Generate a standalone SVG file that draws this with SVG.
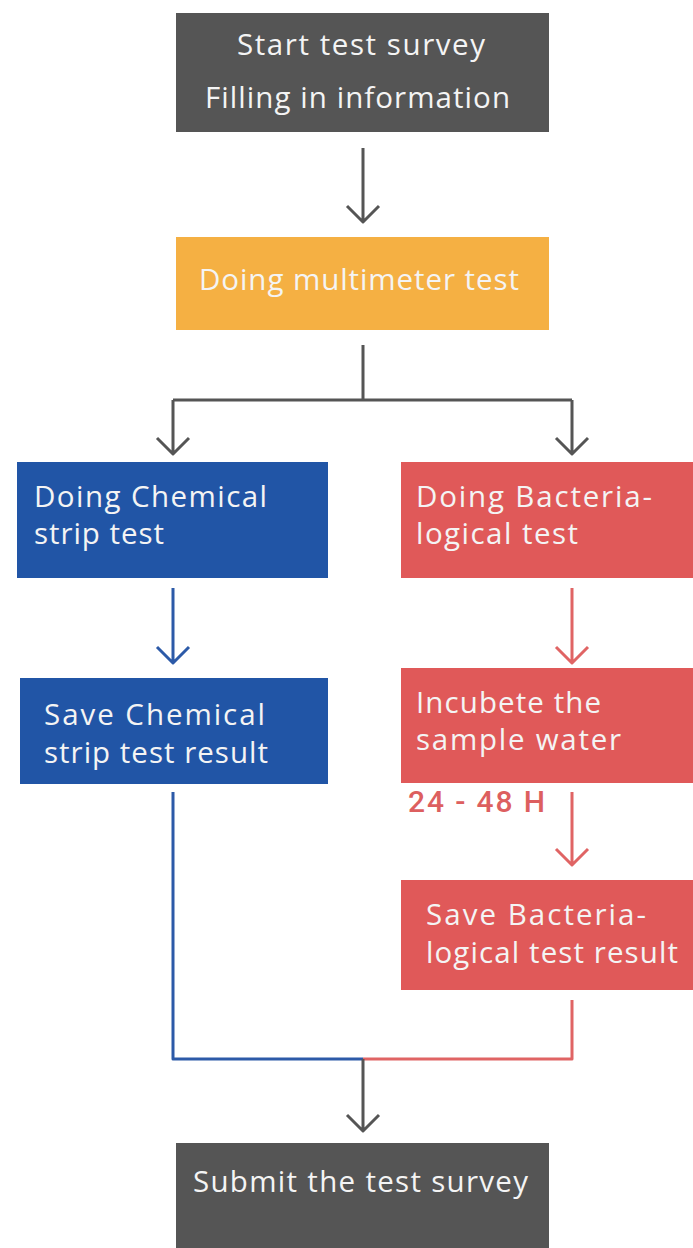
<svg xmlns="http://www.w3.org/2000/svg" width="693" height="1248" viewBox="0 0 693 1248">
  <style>
    .lbl { font-family: "Open Sans", Lato, "Liberation Sans", sans-serif; font-size: 29.5px; fill: #f4f4f4; }
    .gray { fill: #555555; }
    .orange { fill: #f5b043; }
    .blue { fill: #2155a6; }
    .red { fill: #e05959; }
    .cg { stroke: #555555; }
    .cb { stroke: #2c5aa8; }
    .cr { stroke: #e06464; }
    .conn path { fill: none; stroke-width: 3; stroke-linejoin: round; stroke-linecap: butt; }
    .note { font-family: Roboto, "Liberation Sans", sans-serif; font-size: 30px; font-weight: 500; fill: #dd5f5f; }
  </style>

  <rect width="693" height="1248" fill="#ffffff"/>

  <!-- connectors -->
  <g id="connectors" class="conn">
    <path class="cg" d="M363 148 V222 M347 206 L363 222 L379 206"/>
    <path class="cg" d="M363 345 V400 M173 400 H572 M173 400 V454 M157 438 L173 454 L189 438 M572 400 V454 M556 438 L572 454 L588 438"/>
    <path class="cb" d="M173 588 V663 M157 647 L173 663 L189 647"/>
    <path class="cr" d="M572 588 V663 M556 647 L572 663 L588 647"/>
    <path class="cr" d="M572 792 V865 M556 849 L572 865 L588 849"/>
    <path class="cb" d="M173 792 V1059 H363"/>
    <path class="cr" d="M572 1000 V1059 H363"/>
    <path class="cg" d="M363 1059 V1131 M347 1115 L363 1131 L379 1115"/>
  </g>

  <g id="start">
    <rect class="gray" x="176" y="13" width="373" height="119"/>
    <text class="lbl" x="237" y="55" textLength="248" lengthAdjust="spacing">Start test survey</text>
    <text class="lbl" x="205" y="108" textLength="305" lengthAdjust="spacing">Filling in information</text>
  </g>

  <g id="multimeter">
    <rect class="orange" x="176" y="237" width="373" height="93"/>
    <text class="lbl" x="199" y="290" textLength="320" lengthAdjust="spacing">Doing multimeter test</text>
  </g>

  <g id="chem-test">
    <rect class="blue" x="17" y="462" width="311" height="116"/>
    <text class="lbl" x="34" y="507" textLength="233" lengthAdjust="spacing">Doing Chemical</text>
    <text class="lbl" x="34" y="544" textLength="130" lengthAdjust="spacing">strip test</text>
  </g>

  <g id="bact-test">
    <rect class="red" x="401" y="462" width="292" height="116"/>
    <text class="lbl" x="416" y="507" textLength="236" lengthAdjust="spacing">Doing Bacteria-</text>
    <text class="lbl" x="416" y="544" textLength="162" lengthAdjust="spacing">logical test</text>
  </g>

  <g id="chem-save">
    <rect class="blue" x="20" y="678" width="308" height="106"/>
    <text class="lbl" x="44" y="725" textLength="221" lengthAdjust="spacing">Save Chemical</text>
    <text class="lbl" x="44" y="763" textLength="224" lengthAdjust="spacing">strip test result</text>
  </g>

  <g id="incubate">
    <rect class="red" x="401" y="668" width="292" height="115"/>
    <text class="lbl" x="416" y="713" textLength="185" lengthAdjust="spacing">Incubete the</text>
    <text class="lbl" x="416" y="750" textLength="205" lengthAdjust="spacing">sample water</text>
    <text class="note" x="408" y="812" textLength="137" lengthAdjust="spacing">24 - 48 H</text>
  </g>

  <g id="bact-save">
    <rect class="red" x="401" y="880" width="292" height="110"/>
    <text class="lbl" x="426" y="925" textLength="220" lengthAdjust="spacing">Save Bacteria-</text>
    <text class="lbl" x="426" y="963" textLength="252" lengthAdjust="spacing">logical test result</text>
  </g>

  <g id="submit">
    <rect class="gray" x="176" y="1143" width="373" height="105"/>
    <text class="lbl" x="193" y="1192" textLength="335" lengthAdjust="spacing">Submit the test survey</text>
  </g>
</svg>
